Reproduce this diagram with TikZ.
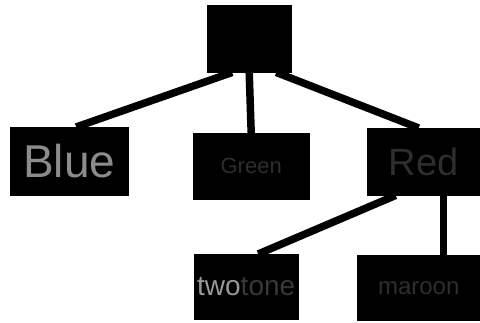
\documentclass[tikz,border=0pt]{standalone}
\usepackage{fontspec}
\setmainfont{Liberation Sans}
\begin{document}
\begin{tikzpicture}[x=1pt,y=-1pt,
  box/.style={fill=black,draw=black,inner sep=0pt,anchor=north west},
  link/.style={line width=7.5pt,draw=black},
  faint/.style={text=black!82},
  lit/.style={text=black!45}]
\useasboundingbox (0,0) rectangle (480,322);
% nodes
\node[box,minimum width=84pt,minimum height=67pt] (top) at (207,5) {};
\node[box,minimum width=118pt,minimum height=68pt,lit,font=\fontsize{46}{46}\selectfont] (blue) at (10,127) {Blue};
\node[box,minimum width=116pt,minimum height=66pt,faint,font=\fontsize{22}{22}\selectfont] (green) at (193,133) {Green};
\node[box,minimum width=113pt,minimum height=67pt,faint,font=\fontsize{38}{38}\selectfont] (red) at (367,128) {Red};
\node[box,minimum width=104pt,minimum height=65pt,font=\fontsize{28}{28}\selectfont] (two) at (194,254) {\textcolor{black!40}{two}\textcolor{black!78}{tone}};
\node[box,minimum width=123pt,minimum height=65pt,faint,font=\fontsize{24}{24}\selectfont] (maroon) at (357,255) {maroon};
% connectors
\draw[link] ([xshift=-17pt]top.south) -- ([xshift=7pt]blue.north);
\draw[link] (top.south) -- (green.north);
\draw[link] ([xshift=27pt]top.south) -- ([xshift=-5pt]red.north);
\draw[link] ([xshift=-28pt]red.south) -- ([xshift=12pt]two.north);
\draw[link] ([xshift=20pt]red.south) -- ([xshift=25pt]maroon.north);
\end{tikzpicture}
\end{document}
